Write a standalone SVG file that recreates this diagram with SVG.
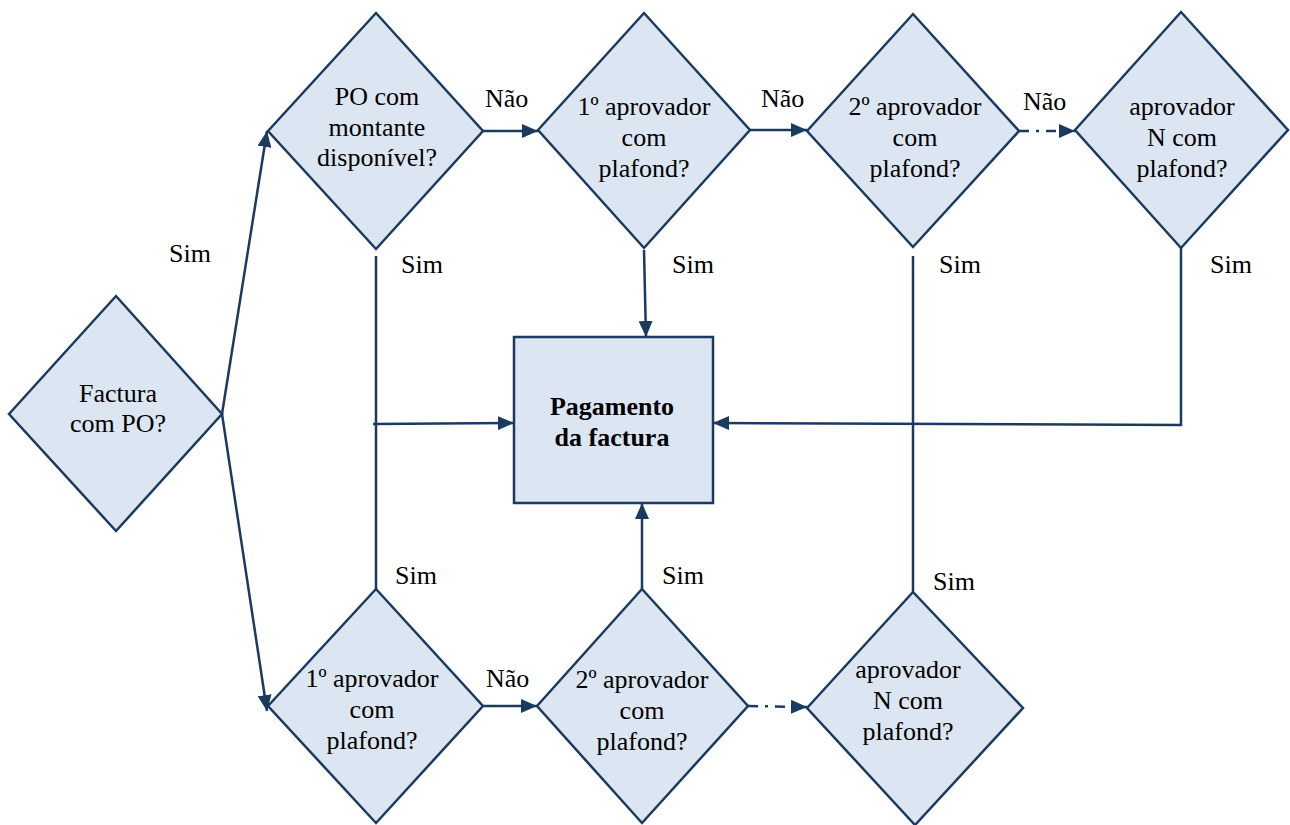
<svg xmlns="http://www.w3.org/2000/svg" width="1290" height="825" viewBox="0 0 1290 825" font-family="'Liberation Serif', Tinos, 'Times New Roman', 'DejaVu Serif', serif">
<style>
.d{fill:#dce6f2;stroke:#1b3a60;stroke-width:2.5;stroke-linejoin:miter}
.t{font-family:'Liberation Serif', Tinos, 'Times New Roman', 'DejaVu Serif', serif;font-size:26px;fill:#000;text-anchor:middle}
.b{font-weight:bold}
.l{font-family:'Liberation Serif', Tinos, 'Times New Roman', 'DejaVu Serif', serif;font-size:26px;fill:#000}
.c{fill:none;stroke:#1b3a60;stroke-width:2.5}
.a{marker-end:url(#ah)}
.dd{stroke-dasharray:10 7 3 7}
</style>
<defs>
<marker id="ah" viewBox="0 0 16 14" refX="16" refY="7" markerWidth="16" markerHeight="14" markerUnits="userSpaceOnUse" orient="auto">
<path d="M0,0 L16,7 L0,14 Z" fill="#1b3a60"/>
</marker>
</defs>
<rect width="1290" height="825" fill="#fff"/>
<g id="connectors">
<path class="c a" d="M222,414 L267,131"/>
<path class="c a" d="M222,414 L267,711"/>
<path class="c a" d="M483,131 L538,131"/>
<path class="c a" d="M750,130 L807,130"/>
<path class="c a dd" d="M1019,131 L1075,131"/>
<path class="c" d="M376,256 L376,589"/>
<path class="c a" d="M373,424 L514,423"/>
<path class="c a" d="M644,250 L646,337"/>
<path class="c a" d="M642,589 L642,503"/>
<path class="c" d="M913,256 L913,592"/>
<path class="c a" d="M1181,248 L1181,425 L713,423"/>
<path class="c a" d="M483,706 L537,706"/>
<path class="c a dd" d="M748,706 L807,707"/>
<text class="l" x="169" y="262">Sim</text>
<text class="l" x="485" y="107">Não</text>
<text class="l" x="761" y="107">Não</text>
<text class="l" x="1023" y="110">Não</text>
<text class="l" x="401" y="273">Sim</text>
<text class="l" x="672" y="273">Sim</text>
<text class="l" x="939" y="273">Sim</text>
<text class="l" x="1210" y="273">Sim</text>
<text class="l" x="395" y="584">Sim</text>
<text class="l" x="662" y="584">Sim</text>
<text class="l" x="933" y="590">Sim</text>
<text class="l" x="486" y="687">Não</text>
</g>
<g id="factura">
<polygon class="d" points="9,414 116,296 222,414 116,531"/>
<text class="t" x="118" y="402">Factura</text>
<text class="t" x="118" y="432">com PO?</text>
</g>
<g id="po">
<polygon class="d" points="268,131 376,13 483,131 376,249"/>
<text class="t" x="377" y="105">PO com</text>
<text class="t" x="377" y="136">montante</text>
<text class="t" x="377" y="166">disponível?</text>
</g>
<g id="ap1top">
<polygon class="d" points="538,130 644,13 750,130 644,248"/>
<text class="t" x="644" y="115">1º aprovador</text>
<text class="t" x="644" y="146">com</text>
<text class="t" x="644" y="177">plafond?</text>
</g>
<g id="ap2top">
<polygon class="d" points="807,131 913,14 1019,131 913,247"/>
<text class="t" x="915" y="115">2º aprovador</text>
<text class="t" x="915" y="146">com</text>
<text class="t" x="915" y="177">plafond?</text>
</g>
<g id="apNtop">
<polygon class="d" points="1075,130 1181,12 1288,130 1181,248"/>
<text class="t" x="1182" y="115">aprovador</text>
<text class="t" x="1182" y="146">N com</text>
<text class="t" x="1182" y="177">plafond?</text>
</g>
<g id="pagamento">
<rect class="d" x="514" y="337" width="199" height="166"/>
<text class="t b" x="612" y="415">Pagamento</text>
<text class="t b" x="612" y="446">da factura</text>
</g>
<g id="ap1bot">
<polygon class="d" points="268,706 376,589 483,706 376,823"/>
<text class="t" x="372" y="687">1º aprovador</text>
<text class="t" x="372" y="718">com</text>
<text class="t" x="372" y="749">plafond?</text>
</g>
<g id="ap2bot">
<polygon class="d" points="537,706 642,589 748,706 642,823"/>
<text class="t" x="642" y="688">2º aprovador</text>
<text class="t" x="642" y="719">com</text>
<text class="t" x="642" y="750">plafond?</text>
</g>
<g id="apNbot">
<polygon class="d" points="807,708 913,592 1023,708 915,825"/>
<text class="t" x="908" y="678">aprovador</text>
<text class="t" x="908" y="709">N com</text>
<text class="t" x="908" y="740">plafond?</text>
</g>
</svg>
